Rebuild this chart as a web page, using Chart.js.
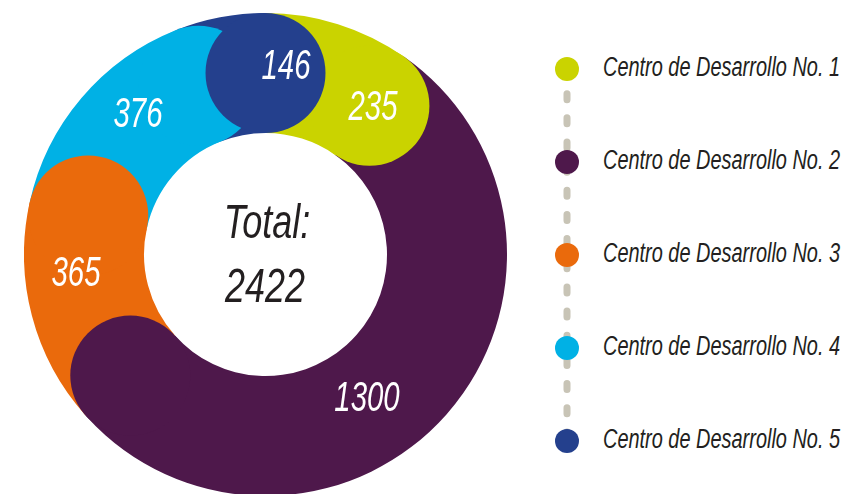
<!DOCTYPE html>
<html>
<head>
<meta charset="utf-8">
<script src="https://cdn.jsdelivr.net/npm/chart.js@4.4.1/dist/chart.umd.min.js"></script>
<style>
  html, body { margin: 0; padding: 0; background: #ffffff; width: 845px; height: 494px; overflow: hidden; }
  #wrap { position: relative; width: 845px; height: 494px; overflow: hidden; }
  #chartBox { position: absolute; left: 24px; top: 13px; width: 483px; height: 483px; }
  #dash { position: absolute; left: 0; top: 0; }
  .t { position: absolute; white-space: nowrap; font-family: 'Liberation Sans Narrow', 'Liberation Sans', Arial, sans-serif; font-style: italic; line-height: 1; }
  .seg { color: #ffffff; font-size: 42px; }
  .ctr { color: #231f20; font-size: 49px; }
  .leg { color: #231f20; font-size: 27px; transform-origin: 0 50%; }
  .dot { position: absolute; width: 24px; height: 24px; border-radius: 50%; }
</style>
</head>
<body>
<div id="wrap">
  <svg id="dash" width="845" height="494"></svg>
  <div id="chartBox"><canvas id="c" width="483" height="483"></canvas></div>
</div>
<script>
// ---- data ----
const categories = [
  'Centro de Desarrollo No. 1',
  'Centro de Desarrollo No. 2',
  'Centro de Desarrollo No. 3',
  'Centro de Desarrollo No. 4',
  'Centro de Desarrollo No. 5'
];
const values = [235, 1300, 365, 376, 146];
const colors = ['#cad300', '#4e184b', '#ea6a0c', '#00b1e5', '#24408d'];
const totalLabel = 'Total:';

// ---- label placement style (relative to each arc) ----
const labelShiftDeg = [18.4, 13.0, 9.4, 7.5, 16.9];
const labelRadiusFrac = [0.757, 0.723, 0.786, 0.789, 0.788];

const total = values.reduce((a, b) => a + b, 0);
const wrap = document.getElementById('wrap');

function makeText(cls, txt) {
  const d = document.createElement('div');
  d.className = 't ' + cls;
  d.textContent = txt;
  wrap.appendChild(d);
  return d;
}

// segment labels
const segEls = values.map(v => makeText('seg', String(v)));
const segScale = 49 / segEls[0].offsetWidth;

// center text
const c1 = makeText('ctr', totalLabel);
const c2 = makeText('ctr', String(total));
const ctrScale = 80 / c2.offsetWidth;

// legend
const legX = 567, legY0 = 69, legStep = 92.9;
const svgNS = 'http://www.w3.org/2000/svg';
const svg = document.getElementById('dash');
const line = document.createElementNS(svgNS, 'line');
line.setAttribute('x1', legX); line.setAttribute('x2', legX);
line.setAttribute('y1', legY0 + 0.5);
line.setAttribute('y2', legY0 + legStep * (categories.length - 1));
line.setAttribute('stroke', '#c8c4b6');
line.setAttribute('stroke-width', '7');
line.setAttribute('stroke-linecap', 'round');
line.setAttribute('stroke-dasharray', '6 18.16');
svg.appendChild(line);

let legScale = null;
categories.forEach((name, i) => {
  const y = legY0 + legStep * i;
  const dot = document.createElement('div');
  dot.className = 'dot';
  dot.style.background = colors[i];
  dot.style.left = (legX - 12) + 'px';
  dot.style.top = (y - 12) + 'px';
  wrap.appendChild(dot);
  const t = makeText('leg', name);
  if (legScale === null) legScale = 237 / t.offsetWidth;
  t.style.left = '603px';
  t.style.top = (y - 2) + 'px';
  t.style.transform = 'translateY(-50%) scaleX(' + legScale + ')';
});

// rounded end caps drawn on top of each arc's end
const capPlugin = {
  id: 'roundCaps',
  afterDatasetsDraw(chart) {
    const ctx = chart.ctx;
    const meta = chart.getDatasetMeta(0);
    meta.data.forEach((arc) => {
      const p = arc.getProps(['x', 'y', 'endAngle', 'innerRadius', 'outerRadius'], true);
      const r = (p.innerRadius + p.outerRadius) / 2;
      const cr = (p.outerRadius - p.innerRadius) / 2;
      ctx.save();
      ctx.beginPath();
      ctx.arc(p.x + r * Math.cos(p.endAngle), p.y + r * Math.sin(p.endAngle), cr, 0, Math.PI * 2);
      ctx.fillStyle = arc.options.backgroundColor;
      ctx.fill();
      ctx.restore();
    });
  }
};

const labelPlugin = {
  id: 'htmlLabels',
  afterDraw(chart) {
    const box = document.getElementById('chartBox');
    const ox = box.offsetLeft, oy = box.offsetTop;
    const meta = chart.getDatasetMeta(0);
    let cx = 0, cy = 0;
    meta.data.forEach((arc, i) => {
      const p = arc.getProps(['x', 'y', 'startAngle', 'endAngle', 'outerRadius'], true);
      cx = p.x; cy = p.y;
      const a = (p.startAngle + p.endAngle) / 2 + labelShiftDeg[i] * Math.PI / 180;
      const r = p.outerRadius * labelRadiusFrac[i];
      const el = segEls[i];
      el.style.left = (ox + p.x + r * Math.cos(a)) + 'px';
      el.style.top = (oy + p.y + r * Math.sin(a)) + 'px';
      el.style.transform = 'translate(-50%,-50%) scaleX(' + segScale + ')';
    });
    c1.style.left = (ox + cx + 1) + 'px';
    c1.style.top = (oy + cy - 34) + 'px';
    c1.style.transform = 'translate(-50%,-50%) scaleX(' + ctrScale + ')';
    c2.style.left = (ox + cx - 1) + 'px';
    c2.style.top = (oy + cy + 30.5) + 'px';
    c2.style.transform = 'translate(-50%,-50%) scaleX(' + ctrScale + ')';
  }
};

new Chart(document.getElementById('c'), {
  type: 'doughnut',
  data: {
    labels: categories,
    datasets: [{
      data: values,
      backgroundColor: colors,
      borderWidth: 0,
      hoverOffset: 0
    }]
  },
  options: {
    responsive: false,
    animation: false,
    events: [],
    rotation: 0,
    cutout: 121.5,
    layout: { padding: 0 },
    plugins: { legend: { display: false }, tooltip: { enabled: false } }
  },
  plugins: [capPlugin, labelPlugin]
});
</script>
</body>
</html>
